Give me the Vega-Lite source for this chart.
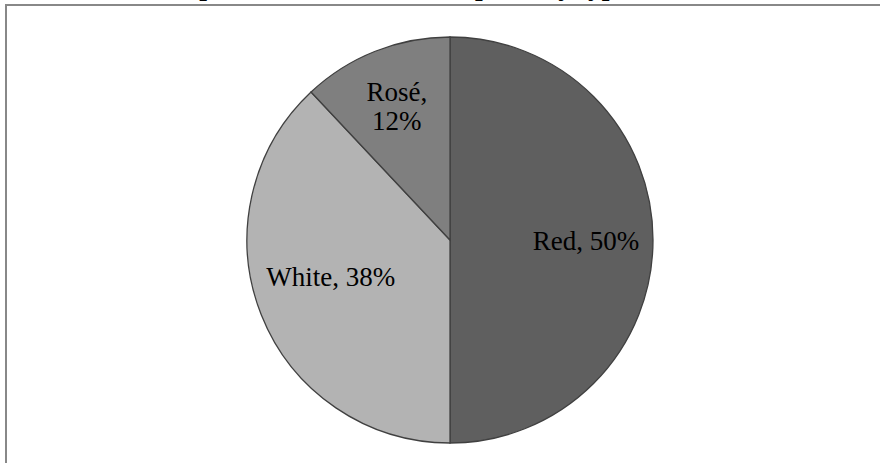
{
  "$schema": "https://vega.github.io/schema/vega-lite/v6.json",
  "width": 888,
  "height": 470,
  "autosize": {"type": "none"},
  "padding": {"left": 6, "top": 5, "right": -14, "bottom": -12},
  "background": "white",
  "view": {"stroke": "#888888", "strokeWidth": 2},
  "title": {
    "text": "Proportion of wine consumption by type",
    "anchor": "start",
    "dx": 151,
    "dy": 17,
    "offset": 0,
    "baseline": "alphabetic",
    "font": "Liberation Serif",
    "fontSize": 27.5,
    "fontWeight": "bold",
    "color": "#000000"
  },
  "data": {
    "values": [
      {"type": "Red", "pct": 50, "order": 1},
      {"type": "White", "pct": 38, "order": 2},
      {"type": "Rosé", "pct": 12, "order": 3}
    ]
  },
  "transform": [
    {"calculate": "datum.type + (datum.type === 'Rosé' ? ',\\n' : ', ') + datum.pct + '%'", "as": "label"}
  ],
  "encoding": {
    "theta": {"field": "pct", "type": "quantitative", "stack": true},
    "order": {"field": "order", "type": "quantitative"}
  },
  "layer": [
    {
      "mark": {"type": "arc", "outerRadius": 203, "stroke": "#404040", "strokeWidth": 1.3},
      "encoding": {
        "color": {
          "field": "type",
          "type": "nominal",
          "scale": {"domain": ["Red", "White", "Rosé"], "range": ["#5f5f5f", "#b3b3b3", "#7f7f7f"]},
          "legend": null
        }
      }
    },
    {
      "mark": {"type": "text", "radius": 136, "dy": 2, "font": "Liberation Serif", "fontSize": 27, "lineBreak": "\n", "color": "#000000", "align": "center", "baseline": "middle"},
      "encoding": {"text": {"condition": {"test": "datum.type === 'Red'", "field": "label"}, "value": ""}}
    },
    {
      "mark": {"type": "text", "radius": 125, "dy": -8, "dx": -3, "font": "Liberation Serif", "fontSize": 27, "lineBreak": "\n", "color": "#000000", "align": "center", "baseline": "middle"},
      "encoding": {"text": {"condition": {"test": "datum.type === 'White'", "field": "label"}, "value": ""}}
    },
    {
      "mark": {"type": "text", "radius": 158, "dx": 5, "font": "Liberation Serif", "fontSize": 27, "lineBreak": "\n", "color": "#000000", "align": "center", "baseline": "middle"},
      "encoding": {"text": {"condition": {"test": "datum.type === 'Rosé'", "field": "label"}, "value": ""}}
    }
  ]
}
